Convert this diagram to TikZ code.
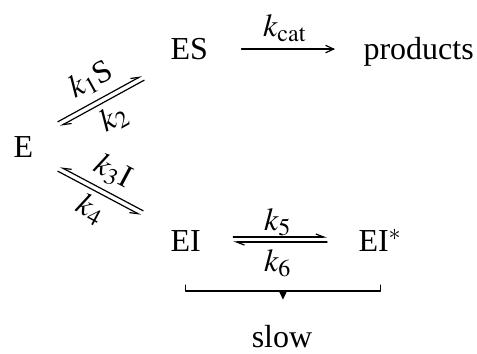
\documentclass[tikz,border=0pt]{standalone}
\usepackage{mathptmx}
\usepackage{fontspec}
\setmainfont{Liberation Serif}
\usetikzlibrary{arrows.meta, calc}
\tikzset{every path/.style={line cap=round, line join=round}}

\begin{document}
\begin{tikzpicture}[
    x=0.375pt, y=-0.375pt,
    font=\fontsize{12}{14}\selectfont,
    inner sep=0pt,
    species/.style={anchor=base west},
    rate/.style={inner sep=0pt},
    line/.style={line width=0.45pt, draw=black},
    fwd/.style={line, -{Straight Barb[left, length=3pt, width=2.3pt]}},
    rev/.style={line, -{Straight Barb[right, length=3pt, width=2.3pt]}},
    flow/.style={line, -{Straight Barb[length=3pt, width=2.8pt]}},
    tipdown/.style={line, -{Triangle[length=3.4pt, width=3.1pt]}}
]
\useasboundingbox (0,0) rectangle (477,354);

% species
\node[species] (E) at (13,158) {E};
\node[species] (ES) at (170,60) {ES};
\node[species] (prod) at (363,60) {products};
\node[species] (EI) at (170,252) {EI};
\node[species] (EIs) at (358,252) {EI$^*$};
\node[anchor=base] (slow) at (282,348) {slow};

% rate constants
\node[rate] (kcat) at (285,28) {$k_{\mathrm{cat}}$};
\node[rate, rotate=29] (k1) at (91,80) {$k_1$S};
\node[rate, rotate=29] (k2) at (114,118) {$k_2$};
\node[rate, rotate=-28] (k3) at (113,172) {$k_3$I};
\node[rate, rotate=-28] (k4) at (91,209) {$k_4$};
\node[rate] (k5) at (278,222) {$k_5$};
\node[rate] (k6) at (278,263) {$k_6$};

% E <=> ES
\coordinate (esA) at (57.8,121.8);
\coordinate (esB) at (141.8,75.8);
\coordinate (esC) at (144.2,80.2);
\coordinate (esD) at (60.2,126.2);
\draw[fwd] (esA) -- (esB);
\draw[fwd] (esC) -- (esD);

% E <=> EI
\coordinate (eiA) at (143.2,210.8);
\coordinate (eiB) at (60.2,166.8);
\coordinate (eiC) at (57.8,171.2);
\coordinate (eiD) at (140.8,215.2);
\draw[rev] (eiA) -- (eiB);
\draw[rev] (eiC) -- (eiD);

% ES -> products
\draw[flow, shorten <=12.4pt, shorten >=10.5pt]
    ([yshift=4.1pt]ES.base east) -- ([yshift=4.1pt]prod.base west);

% EI <=> EI*
\draw[fwd, shorten <=12pt, shorten >=11.6pt]
    ([yshift=5.6pt]EI.base east) -- ([yshift=5.6pt]EIs.base west);
\draw[fwd, shorten <=11.6pt, shorten >=12pt]
    ([yshift=3.75pt]EIs.base west) -- ([yshift=3.75pt]EI.base east);

% slow step bracket
\draw[line] ([yshift=-12.4pt]EI.base) -- ++(0,6) -| ([yshift=-12.4pt]EIs.base);
\coordinate (brkMid) at ($([yshift=-14.65pt]EI.base)!0.5!([yshift=-14.65pt]EIs.base)$);
\draw[tipdown, shorten >=9.6pt] (brkMid) -- (brkMid |- slow.north);

\end{tikzpicture}
\end{document}
